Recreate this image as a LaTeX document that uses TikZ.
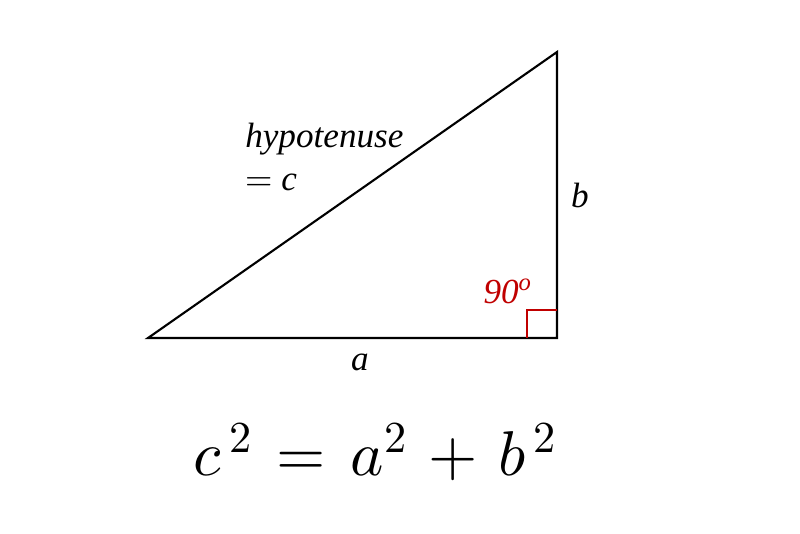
\documentclass[tikz,border=0pt]{standalone}
\usepackage{fontspec}
\usepackage{unicode-math}
\setmainfont{Liberation Serif}
\setmathfont{Latin Modern Math}
\usetikzlibrary{calc}
\definecolor{angred}{RGB}{192,0,0}
\newcommand{\gap}{\mskip2mu}

\begin{document}
\begin{tikzpicture}[x=0.025cm, y=-0.025cm, side/.style={line width=1.5pt, black}, lbl/.style={font=\fontsize{25}{28}\selectfont\itshape, inner sep=0pt}]
\useasboundingbox (0,0) rectangle (800,533);

\coordinate (A) at (148,338);
\coordinate (C) at (557,338);
\coordinate (B) at (557,52);

\draw[side]  (A) -- (C) -- (B) -- cycle;
\draw[angred, line width=1.3pt] (527,338) -- (527,310) -- (557,310);

\node[lbl, anchor=west] (hyp) at (245,139) {hypotenuse};
\node[lbl, anchor=west] (eqc) at (245,182) {$=$ c};
\node[lbl] (b) at (580,195) {b};
\node[lbl] (a) at (360,362) {a};
\node[lbl, text=angred, anchor=east] (ang) at (532,291) {90\textsuperscript{o}};

\node[inner sep=0pt, anchor=base, font=\fontsize{45}{50}\selectfont] (law) at (375,475) {$c^{\,2} \gap=\gap a^{2} \gap+\gap b^{\,2}$};
\end{tikzpicture}
\end{document}
